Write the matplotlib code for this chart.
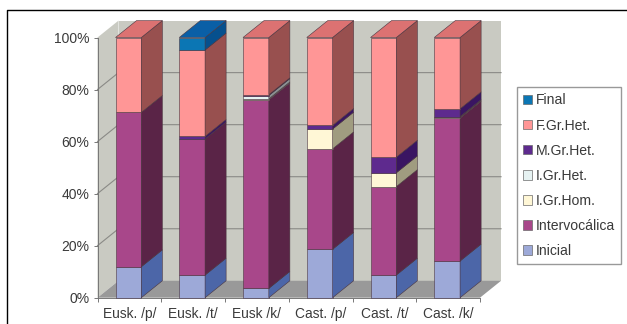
#!/usr/bin/env python
# coding: utf-8
# Stacked 100% columns with a fake 3D depth, consonants by position in the syllable

import matplotlib
matplotlib.use('Agg')
import matplotlib.pyplot as plt
from matplotlib.patches import Polygon, Patch, Rectangle

plt.rcParams['font.family'] = ['Liberation Sans', 'DejaVu Sans']

categories = ['Eusk. /p/', 'Eusk. /t/', 'Eusk /k/', 'Cast. /p/', 'Cast. /t/', 'Cast. /k/']

# Percentages, bottom of the stack first
inicial = [11.9, 8.7, 3.6, 18.6, 8.7, 14.1]
intervocalica = [59.3, 52.3, 72.4, 38.6, 34.0, 54.9]
i_gr_hom = [0.0, 0.0, 0.4, 7.6, 5.3, 0.3]
i_gr_het = [0.0, 0.0, 1.3, 0.0, 0.0, 0.3]
m_gr_het = [0.0, 1.0, 0.3, 1.4, 6.0, 3.0]
f_gr_het = [28.8, 33.2, 22.0, 33.8, 46.0, 27.4]
final = [0.0, 4.8, 0.0, 0.0, 0.0, 0.0]

series = [inicial, intervocalica, i_gr_hom, i_gr_het, m_gr_het, f_gr_het, final]
series_names = ['Inicial', 'Intervocálica', 'I.Gr.Hom.', 'I.Gr.Het.', 'M.Gr.Het.', 'F.Gr.Het.', 'Final']
front_colors = ['#9DA9D8', '#A8478A', '#FFF7D6', '#E6F2F2', '#5E2A8E', '#FF9696', '#0B76B4']
side_colors = ['#4C66A8', '#5A2447', '#A09C80', '#8A9292', '#3A1562', '#98504F', '#06508E']
top_colors = ['#7F8FC0', '#8A3A70', '#D8D2B0', '#C0CCCC', '#4A2078', '#DC7272', '#0A5FA6']

wall_color = '#C9CAC2'
floor_color = '#999999'
grid_color = '#8A8A86'
text_color = '#3A3A3A'
edge_color = '#4A3540'

# Depth of the box, in axis units
depth_x = 0.33
depth_y = 6.5
bar_width = 0.405

fig = plt.figure(figsize=(6.27, 3.24), dpi=100)
ax = fig.add_axes([97.5 / 627, (324 - 297.7) / 324, 382.5 / 627, 260.2 / 324])
ax.set_xlim(0, len(categories))
ax.set_ylim(0, 100)
ax.patch.set_visible(False)

n = len(categories)

# Walls and floor of the box
ax.add_patch(Polygon([(0, 0), (depth_x, depth_y), (depth_x, 100 + depth_y), (0, 100)],
                     fc=wall_color, ec='none', zorder=1, clip_on=False))
ax.add_patch(Rectangle((depth_x, depth_y), n, 100, fc=wall_color, ec='none', zorder=1, clip_on=False))
ax.add_patch(Polygon([(0, 0), (n, 0), (n + depth_x, depth_y), (depth_x, depth_y)],
                     fc=floor_color, ec='none', zorder=1, clip_on=False))

# Gridlines run along the side wall and then across the back
for tick in [20, 40, 60, 80]:
    ax.plot([0, depth_x, n + depth_x], [tick, tick + depth_y, tick + depth_y],
            color=grid_color, lw=0.8, zorder=2, clip_on=False)

# Columns
bottoms = [0.0] * n
for s, values in enumerate(series):
    for i, v in enumerate(values):
        if v <= 0:
            continue
        left = i + 0.5 - bar_width / 2 - 0.015
        right = left + bar_width
        low = bottoms[i]
        high = low + v
        ax.bar(left, v, width=bar_width, bottom=low, align='edge', color=front_colors[s],
               edgecolor=edge_color, linewidth=0.4, zorder=4, clip_on=False)
        ax.add_patch(Polygon([(right, low), (right + depth_x, low + depth_y),
                              (right + depth_x, high + depth_y), (right, high)],
                             fc=side_colors[s], ec=edge_color, lw=0.4, zorder=4, clip_on=False))
        if high >= 99.9:
            ax.add_patch(Polygon([(left, high), (right, high), (right + depth_x, high + depth_y),
                                  (left + depth_x, high + depth_y)],
                                 fc=top_colors[s], ec=edge_color, lw=0.4, zorder=4, clip_on=False))
        bottoms[i] = high

# Axes, ticks and labels
ax.set_yticks([0, 20, 40, 60, 80, 100])
ax.set_yticklabels(['0%', '20%', '40%', '60%', '80%', '100%'], fontsize=10, color=text_color)
ax.set_xticks(range(n + 1))
ax.set_xticklabels([])
ax.set_xticks([i + 0.5 for i in range(n)], minor=True)
ax.set_xticklabels(categories, minor=True, fontsize=9.9, color=text_color)
ax.tick_params(axis='x', which='major', length=3, width=0.7, color='#777777')
ax.tick_params(axis='x', which='minor', length=0, pad=7)
ax.tick_params(axis='y', length=3, width=0.7, color='#777777', pad=3)
for side in ['top', 'right']:
    ax.spines[side].set_visible(False)
for side in ['left', 'bottom']:
    ax.spines[side].set_color('#777777')
    ax.spines[side].set_linewidth(0.7)
    ax.spines[side].set_zorder(3)

# Legend, top entry first
handles = [Patch(facecolor=front_colors[s], edgecolor='#6A6A6A', linewidth=0.5, label=series_names[s])
           for s in range(len(series) - 1, -1, -1)]
fig.legend(handles=handles, loc='upper left', bbox_to_anchor=(516.7 / 627, 1 - 87.3 / 324),
           borderaxespad=0, fontsize=10.1, frameon=True, fancybox=False, edgecolor='#999999',
           facecolor='white', framealpha=1, handlelength=0.66, handleheight=0.66,
           handletextpad=0.28, labelspacing=0.79, borderpad=0.44, labelcolor=text_color)

# Outer frame, open at the bottom
fig.add_artist(plt.Line2D([7.2 / 627, 7.2 / 627, 1], [0, 1 - 10 / 324, 1 - 10 / 324],
                          transform=fig.transFigure, color='black', lw=1.0))

plt.savefig('out.png', dpi=100)
